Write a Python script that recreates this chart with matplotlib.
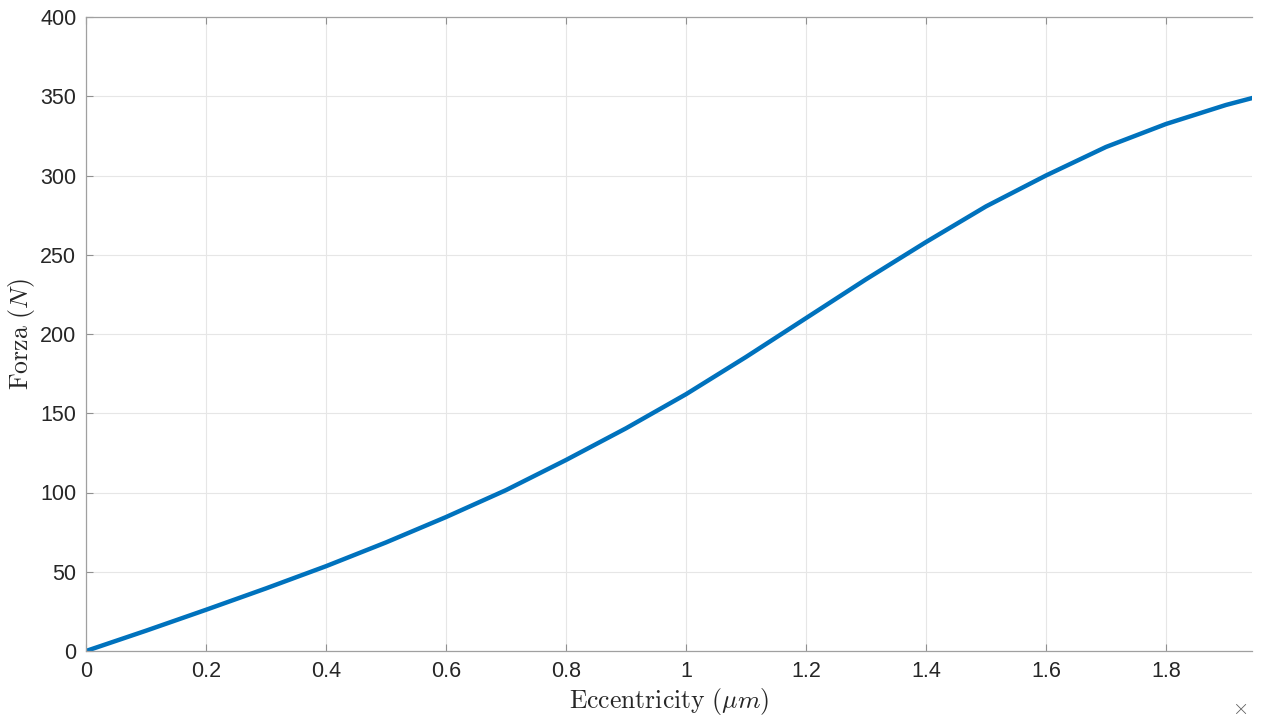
import numpy as np
import matplotlib.pyplot as plt

#- Data (eccentricity in 1e-6 m, force in N):
eccentricity = [0.0, 0.1, 0.2, 0.3, 0.4, 0.5, 0.6, 0.7, 0.8, 0.9, 1.0,
                1.1, 1.2, 1.3, 1.4, 1.5, 1.6, 1.7, 1.8, 1.9, 2.0]
forza = [0, 12.8, 26, 39.5, 53.5, 68.5, 84.5, 101.5, 120.5, 140.5, 162,
         185.5, 210, 234.5, 258, 280.5, 300, 318, 332.5, 344.5, 354.5]
x_ticks = [0, 0.2, 0.4, 0.6, 0.8, 1, 1.2, 1.4, 1.6, 1.8]
x_tick_labels = ['0', '0.2', '0.4', '0.6', '0.8', '1', '1.2', '1.4', '1.6', '1.8']
y_ticks = [0, 50, 100, 150, 200, 250, 300, 350, 400]

plt.rcParams['font.family'] = ['Liberation Sans', 'DejaVu Sans']
plt.rcParams['mathtext.fontset'] = 'cm'

W, H = 1263, 720
fig = plt.figure(figsize=(W / 100, H / 100), dpi=100)
ax = fig.add_axes([86 / W, 1 - 651 / H, (1252 - 86) / W, (651 - 17) / H])

ax.plot(eccentricity, forza, color='#0072BD', lw=3.2, solid_capstyle='round')

ax.set_xlim(0, (1252 - 86) / 600)
ax.set_ylim(0, 400)
ax.set_xticks(x_ticks)
ax.set_xticklabels(x_tick_labels)
ax.set_yticks(y_ticks)
ax.grid(True, color='#e6e6e6', lw=0.8)
ax.set_axisbelow(True)

for side in ['left', 'top', 'bottom']:
    ax.spines[side].set_color('#a0a0a0')
    ax.spines[side].set_linewidth(0.9)
ax.spines['right'].set_visible(False)
ax.tick_params(direction='in', length=5, width=0.8, color='#909090',
               labelsize=15.5, labelcolor='#262626', pad=7, top=True)

ax.set_xlabel(r'$\mathrm{Eccentricity}\ (\mu m)$', fontsize=18.5, color='#262626', labelpad=3)
ax.set_ylabel(r'$\mathrm{Forza}\ (N)$', fontsize=18.5, color='#262626', labelpad=2)

#- Exponent marker (the rest of it falls outside the original crop)
fig.text(1232 / W, 1 - 708 / H, r'$\times$', fontsize=15,
         color='#606060', va='center', ha='left')

fig.savefig('out.png', dpi=100)
